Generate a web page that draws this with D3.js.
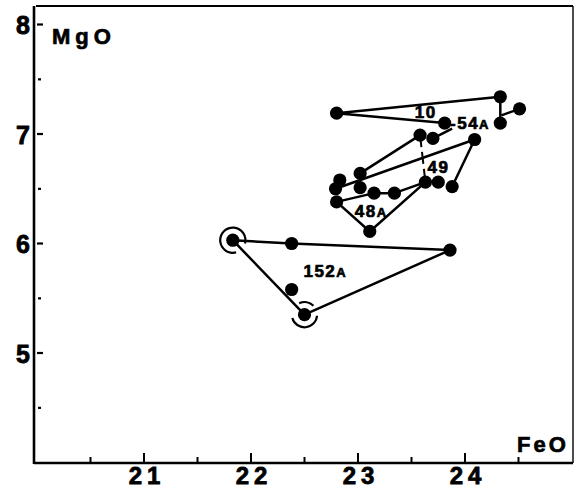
<!DOCTYPE html>
<html><head><meta charset="utf-8">
<script src="https://cdn.jsdelivr.net/npm/d3@7"></script>
<style>
html,body{margin:0;padding:0;background:#fff;}
svg{display:block;}
text{font-family:"Liberation Sans",Arial,Helvetica,sans-serif;font-weight:bold;fill:#000;stroke:#000;stroke-width:0.7px;}
</style></head>
<body>
<svg id="c" width="581" height="497"></svg>
<script>
// ---- data (FeO, MgO wt%) ----
const pointIds = ["a","b","c","d","e","f","g","h","i","j","k","l","m","n","o","p","q","r","s","t","u","v","w","x"];
const feo = [22.80,24.33,24.51,24.33,23.81,23.58,23.70,24.09,23.02,22.83,22.79,23.02,23.15,23.34,23.63,23.75,23.88,22.80,23.11,21.83,22.38,23.86,22.38,22.50];
const mgo = [7.19,7.34,7.23,7.10,7.10,6.99,6.96,6.95,6.64,6.58,6.50,6.51,6.46,6.46,6.56,6.56,6.52,6.38,6.11,6.03,6.00,5.94,5.58,5.35];
// tie lines between analyses of the same sample (by point id)
const tieLines = [
  ["b","a","e"],            // 10
  ["b","d"],                // 54A
  ["f","i"],                // 49
  ["h","k"],                // 49
  ["h","q"],                // 49
  ["r","m","n","o","s","r"],// 48A
  ["t","u","v","x","t"]     // 152A
];
const dashedLines = [["f","o"]];
// extra line vertices (FeO, MgO) not at analysis points
const branchFeo = [24.51, 24.34];
const branchMgo = [7.23, 7.17];
const leaderFeo = [23.70, 23.88];
const leaderMgo = [6.96, 7.05];
const circled = ["t","x"];
// sample labels with anchor (FeO, MgO)
const labelNum = ["10","-54","49","48","152"];
const labelSuffix = ["","A","","A","A"];
const labelFeo = [23.53, 23.86, 23.65, 22.97, 22.49];
const labelMgo = [7.15, 7.05, 6.64, 6.24, 5.69];
// axes
const xTicksMajor = [21,22,23,24];
const xTicksMinor = [20.5,21.5,22.5,23.5,24.5];
const yTicksMajor = [5,6,7,8];
const yTicksMinor = [4.5,5.5,6.5,7.5];
const xTitle = "FeO", yTitle = "MgO";

// ---- drawing ----
const svg = d3.select("#c");
svg.append("rect").attr("width",581).attr("height",497).attr("fill","#fff");
const x = d3.scaleLinear().domain([20,25]).range([37,572]);
const y = d3.scaleLinear().domain([4,8]).range([462.5,24.5]);
const L=34, R=573, T=6, B=463;

// frame
svg.append("line").attr("x1",L).attr("x2",L).attr("y1",T).attr("y2",B+1).attr("stroke","#000").attr("stroke-width",2.6);
svg.append("line").attr("x1",L).attr("x2",R).attr("y1",B).attr("y2",B).attr("stroke","#000").attr("stroke-width",2.4);
svg.append("line").attr("x1",L+2).attr("x2",R).attr("y1",T).attr("y2",T).attr("stroke","#000").attr("stroke-width",2);
svg.append("line").attr("x1",R).attr("x2",R).attr("y1",T).attr("y2",B).attr("stroke","#000").attr("stroke-width",1.4);

// x axis labels via d3 axis
const xa = svg.append("g").attr("transform",`translate(0,${B})`)
  .call(d3.axisBottom(x).tickValues(xTicksMajor).tickSize(0).tickPadding(4).tickFormat(d3.format("d")));
xa.select(".domain").remove();
xa.selectAll("text").style("font-size","24px").style("letter-spacing","5px").attr("dx","2.5px")
  .style("font-family","'Liberation Sans',Arial,sans-serif").style("font-weight","bold")
  .attr("fill","#000").style("stroke","#000").style("stroke-width","0.8px");
// x ticks (inward)
svg.selectAll(".xt").data(xTicksMajor).join("line").attr("x1",d=>x(d)).attr("x2",d=>x(d))
  .attr("y1",B).attr("y2",B-10).attr("stroke","#000").attr("stroke-width",2);
svg.selectAll(".xm").data(xTicksMinor).join("line").attr("x1",d=>x(d)).attr("x2",d=>x(d))
  .attr("y1",B).attr("y2",B-6).attr("stroke","#000").attr("stroke-width",2);

// y axis labels via d3 axis
const ya = svg.append("g").attr("transform",`translate(${L},0)`)
  .call(d3.axisLeft(y).tickValues(yTicksMajor).tickSize(0).tickPadding(4).tickFormat(d3.format("d")));
ya.select(".domain").remove();
ya.selectAll("text").style("font-size","25px").attr("dy","0.36em")
  .style("font-family","'Liberation Sans',Arial,sans-serif").style("font-weight","bold")
  .attr("fill","#000").style("stroke","#000").style("stroke-width","0.8px");
svg.selectAll(".yt").data(yTicksMajor).join("line").attr("x1",L+3).attr("x2",L+9)
  .attr("y1",d=>y(d)).attr("y2",d=>y(d)).attr("stroke","#000").attr("stroke-width",2.2);
svg.selectAll(".ym").data(yTicksMinor).join("rect").attr("x",L+4).attr("y",d=>y(d)-1)
  .attr("width",3).attr("height",2.2).attr("fill","#000");

// titles
svg.append("text").attr("x",52).attr("y",44).style("font-size","22px").style("letter-spacing","5px").text(yTitle);
svg.append("text").attr("x",517).attr("y",452).style("font-size","22px").style("letter-spacing","3px").text(xTitle);

// points lookup
const P = {};
pointIds.forEach((id,i)=>P[id]={feo:feo[i],mgo:mgo[i]});
const line = d3.line().x(d=>x(d.feo)).y(d=>y(d.mgo));

const g = svg.append("g");
g.selectAll(".tie").data(tieLines).join("path").attr("d",ids=>line(ids.map(id=>P[id])))
  .attr("fill","none").attr("stroke","#000").attr("stroke-width",2.5).attr("stroke-linejoin","round");
g.selectAll(".dash").data(dashedLines).join("path").attr("d",ids=>line(ids.map(id=>P[id])))
  .attr("fill","none").attr("stroke","#000").attr("stroke-width",2).attr("stroke-dasharray","12,5");
g.append("path").attr("d",line(branchFeo.map((f,i)=>({feo:f,mgo:branchMgo[i]}))))
  .attr("fill","none").attr("stroke","#000").attr("stroke-width",2.5);
g.append("path").attr("d",line(leaderFeo.map((f,i)=>({feo:f,mgo:leaderMgo[i]}))))
  .attr("fill","none").attr("stroke","#000").attr("stroke-width",2.5);

// circles around selected points (broken)
const arc = d3.arc().innerRadius(11.5).outerRadius(13.7);
const deg = Math.PI/180;
const arcSets = {t:[[165,465]], x:[[-25,45],[95,255]]};
circled.forEach(id=>{
  arcSets[id].forEach(a=>{
    g.append("path").attr("transform",`translate(${x(P[id].feo)},${y(P[id].mgo)})`)
      .attr("d",arc({startAngle:a[0]*deg,endAngle:a[1]*deg})).attr("fill","#000");
  });
});

// dots
g.selectAll(".pt").data(pointIds).join("circle").attr("cx",id=>x(P[id].feo)).attr("cy",id=>y(P[id].mgo))
  .attr("r",6.6).attr("fill","#000");

// sample labels
labelNum.forEach((t,i)=>{
  const tx = svg.append("text").attr("x",x(labelFeo[i])).attr("y",y(labelMgo[i]))
    .style("font-size","17px").style("letter-spacing","1.5px");
  tx.append("tspan").text(t);
  if(labelSuffix[i]) tx.append("tspan").style("font-size","13px").text(labelSuffix[i]);
});
</script>
</body></html>
